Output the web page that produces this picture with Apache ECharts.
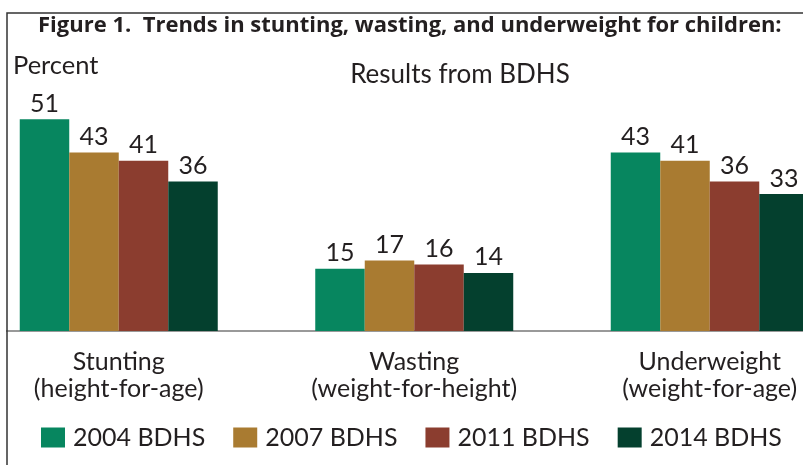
<!DOCTYPE html>
<html>
<head>
<meta charset="utf-8">
<script src="https://cdn.jsdelivr.net/npm/echarts@6/dist/echarts.min.js"></script>
<style>
  html, body { margin: 0; padding: 0; background: #fff; }
  #chart { width: 803px; height: 465px; }
</style>
</head>
<body>
<div id="chart"></div>
<script>
// categories and survey rounds
const categories = ['Stunting\n(height-for-age)', 'Wasting\n(weight-for-height)', 'Underweight\n(weight-for-age)'];
const rounds = ['2004 BDHS', '2007 BDHS', '2011 BDHS', '2014 BDHS'];
const colors = ['#07865f', '#a97b31', '#8b3d2f', '#04402e'];

// percent values per round (stunting, wasting, underweight)
const values2004 = [51, 15, 43];
const values2007 = [43, 17, 41];
const values2011 = [41, 16, 36];
const values2014 = [36, 14, 33];
const allValues = [values2004, values2007, values2011, values2014];

const fontFamily = 'Lato, "DejaVu Sans", sans-serif';
const textColor = '#231f20';

const chart = echarts.init(document.getElementById('chart'));

const series = rounds.map((name, i) => ({
  name,
  type: 'bar',
  data: allValues[i],
  barWidth: 49.5,
  barGap: 0,
  itemStyle: { color: colors[i] },
  label: {
    show: true,
    position: 'top',
    distance: 3,
    color: textColor,
    fontFamily,
    fontSize: 25,
  },
}));

const option = {
  animation: false,
  backgroundColor: '#fff',
  title: [{
    text: 'Figure 1.  Trends in stunting, wasting, and underweight for children:',
    left: 38,
    top: 15,
    padding: 0,
    textStyle: { fontFamily: '"Open Sans", sans-serif', fontWeight: 'bold', fontSize: 22, color: textColor },
  }, {
    text: 'Percent',
    left: 13,
    top: 53,
    padding: 0,
    textStyle: { fontFamily, fontWeight: 'normal', fontSize: 25.5, color: textColor },
  }, {
    text: 'Results from BDHS',
    left: 460,
    textAlign: 'center',
    top: 62,
    padding: 0,
    textStyle: { fontFamily, fontWeight: 'normal', fontSize: 26, color: textColor },
  }],
  legend: {
    data: rounds,
    left: 41,
    top: 425,
    padding: 0,
    itemWidth: 24,
    itemHeight: 20,
    itemGap: 28,
    icon: 'rect',
    textStyle: { fontFamily, fontSize: 25, color: textColor, padding: [0, 0, 0, 3] },
  },
  grid: {
    left: -29,
    right: -54.5,
    top: 82,
    bottom: 134,
    containLabel: false,
    outerBoundsMode: 'none',
  },
  xAxis: {
    type: 'category',
    data: categories,
    axisTick: { show: false },
    axisLine: { lineStyle: { color: '#999', width: 2 } },
    axisLabel: {
      margin: 17,
      fontFamily,
      fontSize: 25,
      lineHeight: 27,
      color: textColor,
      interval: 0,
    },
  },
  yAxis: {
    type: 'value',
    min: 0,
    max: 60,
    show: false,
  },
  graphic: [{
    type: 'rect',
    shape: { x: 0, y: 320, width: 6, height: 20 },
    style: { fill: '#fff' },
    z: 100,
  }, {
    type: 'polyline',
    shape: { points: [[803, 13], [7, 13], [7, 465]] },
    style: { stroke: '#333', lineWidth: 1.5, fill: null },
    z: 100,
  }],
  series,
};

chart.setOption(option);
</script>
</body>
</html>
